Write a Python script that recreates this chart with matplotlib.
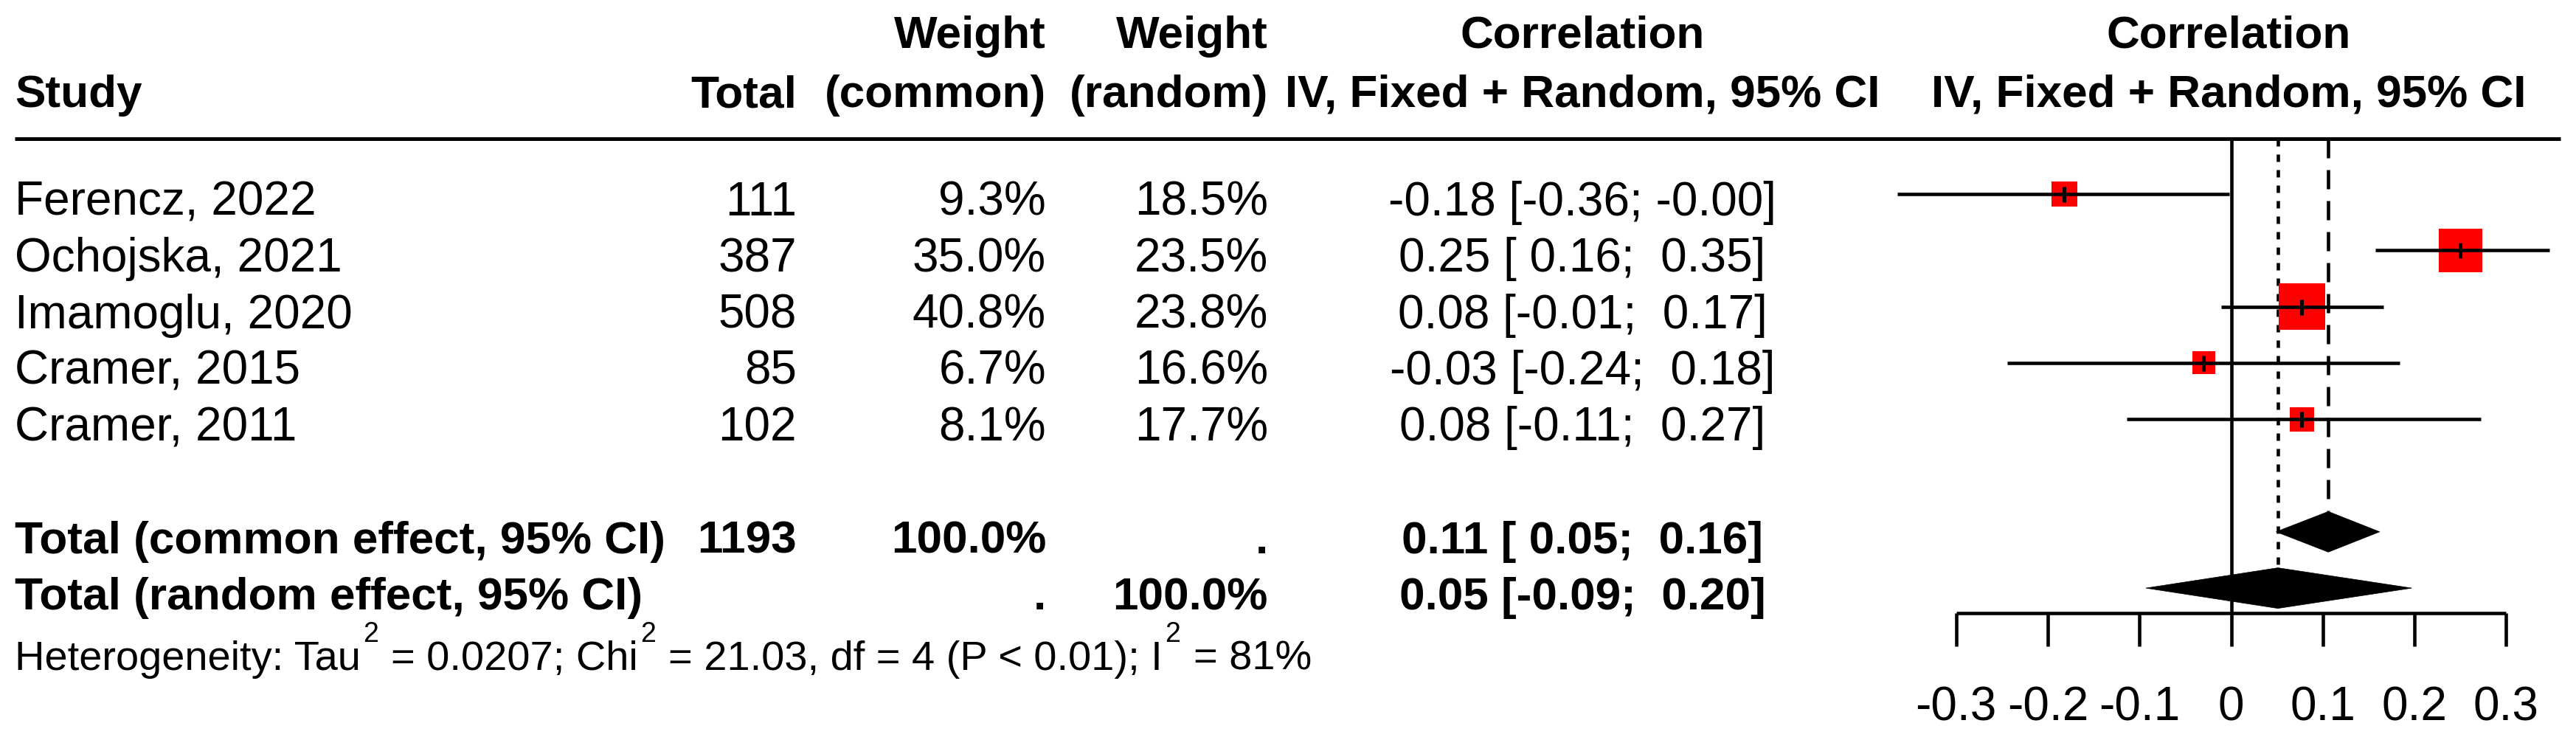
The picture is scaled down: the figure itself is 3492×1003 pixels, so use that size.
import matplotlib
matplotlib.use("Agg")
import matplotlib.pyplot as plt
import matplotlib.transforms as mtransforms
from matplotlib.patches import Polygon
from matplotlib.lines import Line2D
import numpy as np

# ---------------- data ----------------
studies = ["Ferencz, 2022", "Ochojska, 2021", "Imamoglu, 2020", "Cramer, 2015", "Cramer, 2011"]
totals = [111, 387, 508, 85, 102]
w_common = [9.3, 35.0, 40.8, 6.7, 8.1]
w_random = [18.5, 23.5, 23.8, 16.6, 17.7]
est = [-0.182, 0.25, 0.077, -0.030, 0.077]
ci_lo = [-0.364, 0.157, -0.011, -0.244, -0.114]
ci_hi = [-0.002, 0.347, 0.166, 0.184, 0.272]

total_n = 1193
common_est, common_lo, common_hi = 0.106, 0.049, 0.162
random_est, random_lo, random_hi = 0.051, -0.093, 0.197

tau2 = 0.0207
chi2 = 21.03
df_het = 4
p_text = "P < 0.01"
i2 = 81

xticks = [-0.3, -0.2, -0.1, 0.0, 0.1, 0.2, 0.3]
xtick_labels = ["-0.3", "-0.2", "-0.1", "0", "0.1", "0.2", "0.3"]

# ---------------- layout ----------------
W, H = 3492, 1004
DPI = 100
plt.rcParams['font.family'] = ['Liberation Sans', 'DejaVu Sans']
plt.rcParams['lines.scale_dashes'] = False

fig = plt.figure(figsize=(W / DPI, H / DPI), dpi=DPI)
fig.patch.set_facecolor('white')
ax = fig.add_axes([0, 0, 1, 1])
ax.axis('off')

X0, XS = 3024.5, 1243.0   # pixel of x=0, pixels per unit
Y0, YS = 264.0, 76.3      # pixel of row 0, pixels per row
ax.set_xlim(-X0 / XS, (W - X0) / XS)
ax.set_ylim((H - Y0) / YS, -Y0 / YS)


def prow(py):
    return (py - Y0) / YS


def fx(px):
    return px / W


def fy(py):
    return 1 - py / H


FS = 46
FS_BOLD = 44.7
FS_HET = 40.3
FS_SUP = 27
LW = 3.3
PX = 72.0 / DPI  # points per pixel

tb = mtransforms.blended_transform_factory(fig.transFigure, ax.transData)
tb_text = mtransforms.offset_copy(tb, fig=fig, x=0, y=-28, units='dots')


def row_text(xpx, row, s, ha, bold=False):
    ax.text(fx(xpx), row, s, transform=tb_text, ha=ha, va='baseline',
            fontsize=FS_BOLD if bold else FS,
            fontweight='bold' if bold else 'normal', color='black')


def fmt(v):
    return f"{v:.2f}"


def pad(v):
    s = fmt(v)
    return s if s.startswith('-') else ' ' + s


def ci_string(e, lo, hi):
    return f"{fmt(e)} [{pad(lo)}; {pad(hi)}]"


COL_STUDY = 20
COL_TOTAL = 1080
COL_WC = 1418
COL_WR = 1719
COL_CI = 2145
COL_FOREST = 3021

# ---------------- header ----------------
hdr = dict(fontsize=FS_BOLD, fontweight='bold', va='baseline', color='black')
fig.text(fx(COL_WC), fy(65), "Weight", ha='right', **hdr)
fig.text(fx(COL_WR), fy(65), "Weight", ha='right', **hdr)
fig.text(fx(COL_CI), fy(65), "Correlation", ha='center', **hdr)
fig.text(fx(COL_FOREST), fy(65), "Correlation", ha='center', **hdr)
fig.text(fx(COL_STUDY), fy(145), "Study", ha='left', **hdr)
fig.text(fx(COL_TOTAL), fy(145), "Total", ha='right', **hdr)
fig.text(fx(COL_WC), fy(145), "(common)", ha='right', **hdr)
fig.text(fx(COL_WR), fy(145), "(random)", ha='right', **hdr)
fig.text(fx(COL_CI), fy(145), "IV, Fixed + Random, 95% CI", ha='center', **hdr)
fig.text(fx(COL_FOREST), fy(145), "IV, Fixed + Random, 95% CI", ha='center', **hdr)

fig.add_artist(Line2D([fx(20), fx(3471)], [fy(189), fy(189)], transform=fig.transFigure,
                      lw=5 * PX, color='black', solid_capstyle='butt'))

# ---------------- study rows ----------------
rows = np.arange(len(studies))
for i, name in enumerate(studies):
    row_text(COL_STUDY, rows[i], name, 'left')
    row_text(COL_TOTAL, rows[i], f"{totals[i]}", 'right')
    row_text(COL_WC, rows[i], f"{w_common[i]:.1f}%", 'right')
    row_text(COL_WR, rows[i], f"{w_random[i]:.1f}%", 'right')
    row_text(COL_CI, rows[i], ci_string(est[i], ci_lo[i], ci_hi[i]), 'center')

row_common = len(studies) + 1
row_random = len(studies) + 2
row_text(COL_STUDY, row_common, "Total (common effect, 95% CI)", 'left', True)
row_text(COL_TOTAL, row_common, f"{total_n}", 'right', True)
row_text(COL_WC, row_common, "100.0%", 'right', True)
row_text(COL_WR, row_common, ".", 'right', True)
row_text(COL_CI, row_common, ci_string(common_est, common_lo, common_hi), 'center', True)

row_text(COL_STUDY, row_random, "Total (random effect, 95% CI)", 'left', True)
row_text(COL_WC, row_random, ".", 'right', True)
row_text(COL_WR, row_random, "100.0%", 'right', True)
row_text(COL_CI, row_random, ci_string(random_est, random_lo, random_hi), 'center', True)

# ---------------- forest ----------------
y_top = prow(189)
y_axis = prow(832)
dh = 27.5 / YS

ax.vlines(0, y_top, y_axis, lw=LW, color='black', zorder=1)
ax.vlines(common_est, y_top, row_common - dh, lw=LW, color='black',
          linestyles=[(0, (26 * PX, 16 * PX))], zorder=1)
ax.vlines(random_est, y_top, row_random - dh, lw=LW, color='black',
          linestyles=[(0, (10 * PX, 11 * PX))], zorder=1)

side_px = 9.2 + 8.42 * np.sqrt(np.array(w_common))
ax.scatter(est, rows, s=(side_px * PX) ** 2, marker='s', color='#ff0000',
           linewidths=0, zorder=2)
ax.hlines(rows, ci_lo, ci_hi, lw=LW, color='black', zorder=3)
ax.plot(est, rows, ls='none', marker='|', ms=21 * PX, mew=5 * PX, color='black', zorder=4)

for (e, lo, hi, r) in [(common_est, common_lo, common_hi, row_common),
                       (random_est, random_lo, random_hi, row_random)]:
    ax.add_patch(Polygon([(lo, r), (e, r - dh), (hi, r), (e, r + dh)], closed=True,
                         facecolor='black', edgecolor='black', lw=0.5, zorder=3))

# axis
ax.hlines(y_axis, xticks[0], xticks[-1], lw=LW, color='black', zorder=2)
ax.vlines(xticks, y_axis, prow(877), lw=LW, color='black', zorder=2)
for t, lab in zip(xticks, xtick_labels):
    ax.text(t, prow(977), lab, ha='center', va='baseline', fontsize=FS, color='black')

# ---------------- heterogeneity ----------------
renderer = fig.canvas.get_renderer()


def text_width(s, size):
    t = fig.text(0, 0, s, fontsize=size)
    w = t.get_window_extent(renderer).width
    t.remove()
    return w


space_w = text_width("a a", FS_HET) - text_width("aa", FS_HET)
pieces = ["Heterogeneity: Tau",
          f"= {tau2:.4f}; Chi",
          f"= {chi2:.2f}, df = {df_het} ({p_text}); I",
          f"= {i2}%"]
x = 20.0
for k, piece in enumerate(pieces):
    if k > 0:
        x += space_w
    fig.text(fx(x), fy(908), piece, fontsize=FS_HET, ha='left', va='baseline', color='black')
    x += text_width(piece, FS_HET) + 3
    if k < len(pieces) - 1:
        fig.text(fx(x), fy(870), "2", fontsize=FS_SUP, ha='left', va='baseline', color='black')
        x += text_width("2", FS_SUP) + 2

fig.savefig("out.png", dpi=DPI, facecolor='white')
